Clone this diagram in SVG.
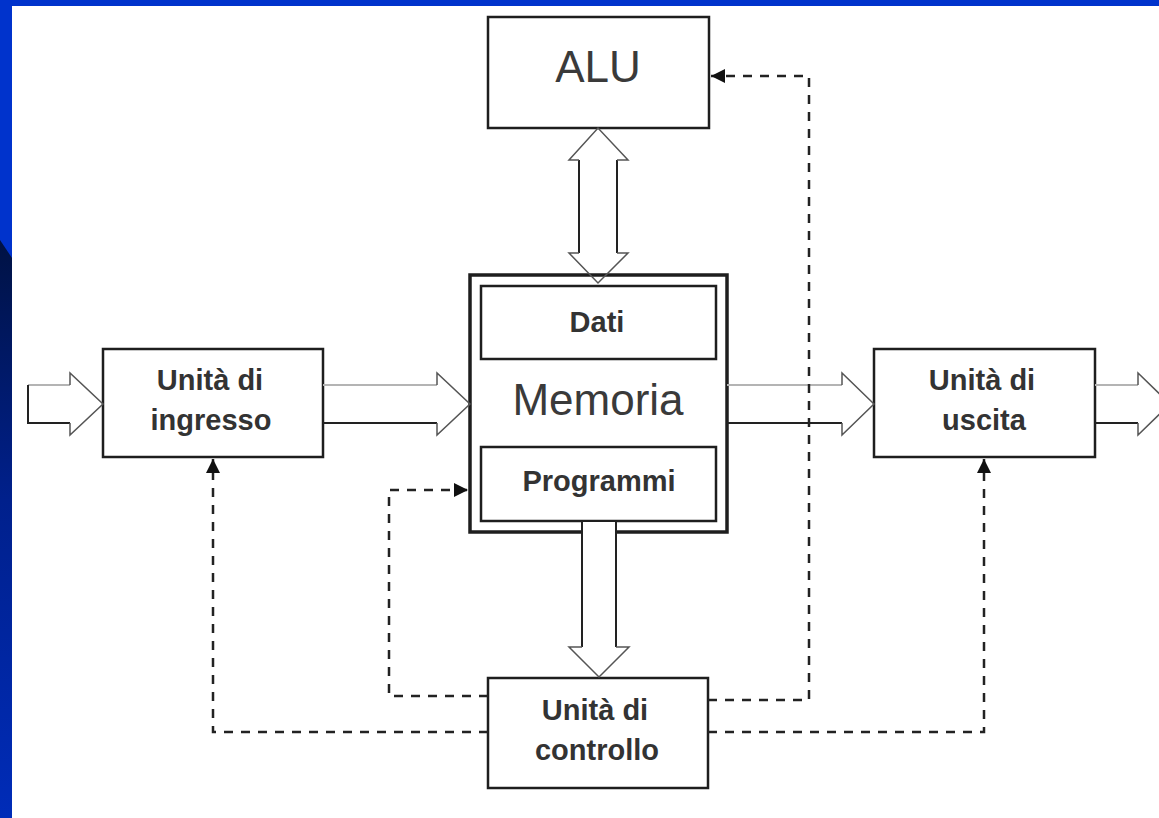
<svg xmlns="http://www.w3.org/2000/svg" width="1159" height="818" viewBox="0 0 1159 818">
  <defs>
    <linearGradient id="sideShade" x1="0" y1="0" x2="0" y2="1">
      <stop offset="0" stop-color="#001244"/>
      <stop offset="0.45" stop-color="#00208c"/>
      <stop offset="1" stop-color="#002cb8"/>
    </linearGradient>
    <marker id="tri" viewBox="0 0 10 10" refX="10" refY="5" markerWidth="14" markerHeight="14" markerUnits="userSpaceOnUse" orient="auto">
      <path d="M0,0 L10,5 L0,10 Z" fill="#111"/>
    </marker>
    <style>
      .box { fill: #fff; stroke: #1e1e1e; stroke-width: 2.5; }
      .outer { fill: #fff; stroke: #1e1e1e; stroke-width: 3.5; }
      .lbl { font-family: "Liberation Sans", Arial, sans-serif; font-weight: bold; font-size: 29px; fill: #333; text-anchor: middle; }
      .big { font-family: "Liberation Sans", Arial, sans-serif; font-size: 44px; fill: #3a3a3a; text-anchor: middle; }
      .dash { fill: none; stroke: #222; stroke-width: 2.5; stroke-dasharray: 9 8; }
      .shaft { stroke: #222; stroke-width: 2; fill: none; }
      .shaftLight { stroke: #b4b4b4; stroke-width: 2; fill: none; }
      .head { stroke: #555; stroke-width: 1.5; fill: none; }
    </style>
  </defs>

  <!-- slide background -->
  <rect x="0" y="0" width="1159" height="818" fill="#ffffff"/>
  <rect x="0" y="0" width="1159" height="6" fill="#0033cc"/>
  <rect x="0" y="0" width="12" height="818" fill="#0033cc"/>
  <polygon points="0,240 12,258 12,818 0,818" fill="url(#sideShade)"/>

  <!-- nodes -->
  <g id="alu">
    <rect class="box" x="488" y="17" width="221" height="111"/>
    <text class="big" x="598" y="82">ALU</text>
  </g>

  <g id="memoria">
    <rect class="outer" x="470" y="275" width="257" height="257"/>
    <g id="dati">
      <rect class="box" x="481" y="286" width="235" height="73"/>
      <text class="lbl" x="597" y="332">Dati</text>
    </g>
    <text class="big" x="598" y="415">Memoria</text>
    <g id="programmi">
      <rect class="box" x="481" y="447" width="235" height="74"/>
      <text class="lbl" x="599" y="491">Programmi</text>
    </g>
  </g>

  <g id="unita-ingresso">
    <rect class="box" x="103" y="349" width="220" height="108"/>
    <text class="lbl" x="210" y="390">Unità di</text>
    <text class="lbl" x="211" y="430">ingresso</text>
  </g>

  <g id="unita-uscita">
    <rect class="box" x="874" y="349" width="221" height="108"/>
    <text class="lbl" x="982" y="390">Unità di</text>
    <text class="lbl" x="984" y="430">uscita</text>
  </g>

  <g id="unita-controllo">
    <rect class="box" x="488" y="678" width="220" height="110"/>
    <text class="lbl" x="595" y="720">Unità di</text>
    <text class="lbl" x="597" y="760">controllo</text>
  </g>

  <!-- connectors -->
  <g id="connectors">
    <!-- data bus arrows (hollow) -->
    <g id="bus-input">
      <path class="shaftLight" d="M28,385 L70,385"/>
      <path class="shaft" d="M28,385 L28,423 L70,423"/>
      <path class="head" d="M70,385 L70,373 L103,404 L70,435 L70,423"/>
    </g>
    <g id="bus-ingresso-memoria">
      <path class="shaftLight" d="M323,385 L437,385"/>
      <path class="shaft" d="M323,423 L437,423"/>
      <path class="head" d="M437,385 L437,373 L470,404 L437,435 L437,423"/>
    </g>
    <g id="bus-memoria-uscita">
      <path class="shaftLight" d="M727,385 L842,385"/>
      <path class="shaft" d="M727,423 L842,423"/>
      <path class="head" d="M842,385 L842,373 L874,404 L842,435 L842,423"/>
    </g>
    <g id="bus-output">
      <path class="shaftLight" d="M1095,385 L1138,385"/>
      <path class="shaft" d="M1095,423 L1138,423"/>
      <path class="head" d="M1138,385 L1138,373 L1170,404 L1138,435 L1138,423"/>
    </g>
    <g id="bus-alu-memoria">
      <path class="shaft" d="M579,160 L579,253 M617,160 L617,253"/>
      <path class="head" d="M579,160 L569,160 L598,128 L628,160 L617,160 M579,253 L569,253 L598,283 L628,253 L617,253"/>
    </g>
    <g id="bus-memoria-controllo">
      <rect x="583" y="522" width="32" height="126" fill="#fff"/>
      <path class="shaft" d="M582,521 L582,647 M616,521 L616,647"/>
      <path class="head" d="M582,647 L569,647 L599,677 L629,647 L616,647"/>
    </g>

    <!-- control signals (dashed) -->
    <path class="dash" d="M488,696 L389,696 L389,490 L468,490" marker-end="url(#tri)"/>
    <path class="dash" d="M488,732 L213,732 L213,459" marker-end="url(#tri)"/>
    <path class="dash" d="M708,700 L809,700 L809,76 L711,76" marker-end="url(#tri)"/>
    <path class="dash" d="M708,732 L984,732 L984,459" marker-end="url(#tri)"/>
  </g>
</svg>
